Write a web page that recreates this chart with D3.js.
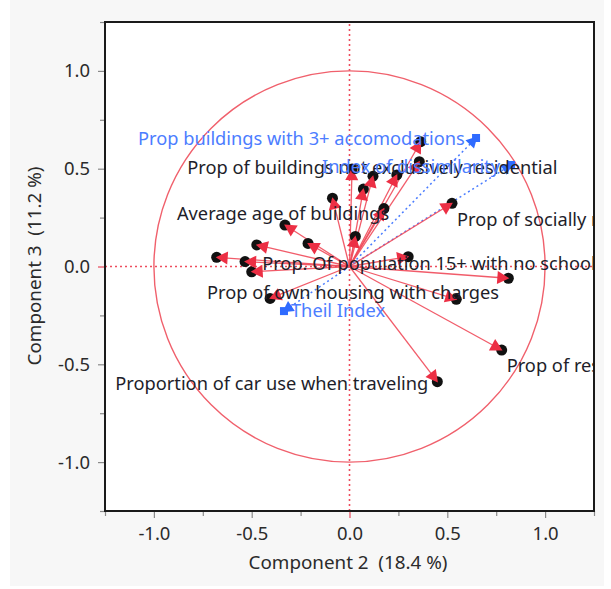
<!DOCTYPE html>
<html>
<head>
<meta charset="utf-8">
<script src="https://cdn.jsdelivr.net/npm/d3@7/dist/d3.min.js"></script>
<style>
  html, body { margin: 0; padding: 0; background: #ffffff; }
  svg { display: block; }
  text { font-family: "Noto Sans", "Open Sans", sans-serif; white-space: pre; }
</style>
</head>
<body>
<svg id="chart" width="611" height="589"></svg>
<script>
// ---------- data ----------
const variableNames = [
  "Prop of buildings with 3+ rooms",
  "Prop of buildings not exclusively residential",
  "Prop of apartments",
  "Prop of recent buildings",
  "Prop of buildings built before 1946",
  "Prop of vacant housing",
  "Prop of secondary residences",
  "Prop of large housing",
  "Prop of socially rented housing",
  "Prop of single-person households",
  "Prop of households with children",
  "Average age of buildings",
  "Prop of owners",
  "Prop of retirees",
  "Prop of households with 5+ persons",
  "Prop of unemployed",
  "Prop of own housing with charges",
  "Prop. Of population 15+ with no schooling",
  "Prop of foreign population",
  "Prop of manual workers",
  "Prop of residences over 20 years",
  "Proportion of car use when traveling"
];
const comp2 = [0.364, 0.357, 0.242, 0.120, 0.013, 0.071, -0.087, 0.176, 0.524, 0.030, -0.212, -0.330, -0.474, -0.679, -0.534, -0.500, -0.406, 0.300, 0.812, 0.546, 0.778, 0.449];
const comp3 = [0.638, 0.536, 0.468, 0.462, 0.498, 0.396, 0.349, 0.296, 0.323, 0.154, 0.118, 0.212, 0.110, 0.047, 0.025, -0.027, -0.163, 0.050, -0.060, -0.168, -0.427, -0.589];
const shownLabels = [
  "Prop of buildings not exclusively residential",
  "Average age of buildings",
  "Prop of socially rented housing",
  "Prop. Of population 15+ with no schooling",
  "Prop of own housing with charges",
  "Prop of residences over 20 years",
  "Proportion of car use when traveling"
];

const suppNames = ["Prop buildings with 3+ accomodations", "Index of dissimilarity", "Theil Index"];
const suppComp2 = [0.647, 0.826, -0.335];
const suppComp3 = [0.657, 0.519, -0.228];

const majorTicks = [-1.0, -0.5, 0.0, 0.5, 1.0];
const minorTicks = [-1.25, -0.75, -0.25, 0.25, 0.75, 1.25];
const xTitle = "Component 2  (18.4 %)";
const yTitle = "Component 3  (11.2 %)";

// ---------- label placement (pixel offsets from each point; styling, not data) ----------
const labelOffsets = {
  "Prop of buildings not exclusively residential": [-232, 12],
  "Average age of buildings": [-108, -5],
  "Prop of socially rented housing": [5, 23],
  "Prop. Of population 15+ with no schooling": [-146, 13],
  "Prop of own housing with charges": [-63, 1],
  "Prop of residences over 20 years": [5, 22],
  "Proportion of car use when traveling": [-322, 8]
};
const suppLabelOffsets = {
  "Prop buildings with 3+ accomodations": [-338, 7],
  "Index of dissimilarity": [-189, 8],
  "Theil Index": [7, 6]
};

// ---------- layout ----------
const svg = d3.select("#chart");
const plot = {left: 105, right: 594, top: 22, bottom: 511};

// font-size fitting helper (matches text widths of the reference rendering)
function fitSize(str, target) {
  const t = svg.append("text").style("font-size", "100px").text(str);
  const w = t.node().getComputedTextLength();
  t.remove();
  return (100 * target / w).toFixed(2) + "px";
}
const labelSize = fitSize("Proportion of car use when traveling", 313);
const titleSize = fitSize("Component 2  (18.4 %)", 199);
const tickSize = fitSize("-1.0", 32);

svg.append("rect").attr("x", 10).attr("y", 0).attr("width", 594).attr("height", 586).attr("fill", "#f7f7f7");

const x = d3.scaleLinear().domain([-1.25, 1.25]).range([plot.left, plot.right]);
const y = d3.scaleLinear().domain([-1.25, 1.25]).range([plot.bottom, plot.top]);

svg.append("rect").attr("x", plot.left).attr("y", plot.top)
  .attr("width", plot.right - plot.left).attr("height", plot.bottom - plot.top)
  .attr("fill", "#ffffff");

svg.append("clipPath").attr("id", "clip").append("rect")
  .attr("x", plot.left + 1).attr("y", plot.top + 1)
  .attr("width", plot.right - plot.left - 2).attr("height", plot.bottom - plot.top - 2);

const fmt = d => d.toFixed(1);
const tickColor = "#8a8a8a";
const labelColor = "#2b2b2b";

// axes
const xAxis = svg.append("g").attr("transform", `translate(0,${plot.bottom})`)
  .call(d3.axisBottom(x).tickValues(majorTicks).tickFormat(fmt).tickSizeOuter(0).tickSize(7).tickPadding(9));
const xMinor = svg.append("g").attr("transform", `translate(0,${plot.bottom})`)
  .call(d3.axisBottom(x).tickValues(minorTicks).tickFormat("").tickSizeOuter(0).tickSize(5));
const yAxis = svg.append("g").attr("transform", `translate(${plot.left},0)`)
  .call(d3.axisLeft(y).tickValues(majorTicks).tickFormat(fmt).tickSizeOuter(0).tickSize(7).tickPadding(8));
const yMinor = svg.append("g").attr("transform", `translate(${plot.left},0)`)
  .call(d3.axisLeft(y).tickValues(minorTicks).tickFormat("").tickSizeOuter(0).tickSize(5));

[xAxis, xMinor, yAxis, yMinor].forEach(g => {
  g.select(".domain").remove();
  g.selectAll(".tick line").attr("stroke", tickColor).attr("stroke-width", 1.2);
  g.selectAll(".tick text").attr("fill", labelColor).style("font-size", tickSize)
    .style("font-family", '"Noto Sans", sans-serif');
});
xAxis.selectAll(".tick").filter(d => d === 0).select("line").attr("stroke", "#e8485a");
yAxis.selectAll(".tick").filter(d => d === 0).select("line").attr("stroke", "#e8485a");

// axis titles
svg.append("text").attr("x", 348).attr("y", 569)
  .attr("text-anchor", "middle").attr("fill", labelColor).style("font-size", titleSize).text(xTitle);
svg.append("text").attr("transform", `translate(41,266) rotate(-90)`)
  .attr("text-anchor", "middle").attr("fill", labelColor).style("font-size", titleSize).text(yTitle);

const g = svg.append("g").attr("clip-path", "url(#clip)");

// reference lines
const red = "#ee4d5d";
g.append("line").attr("x1", x(-1.25)).attr("x2", x(1.25)).attr("y1", y(0)).attr("y2", y(0))
  .attr("stroke", red).attr("stroke-width", 1.6).attr("stroke-dasharray", "2,3");
g.append("line").attr("x1", x(0)).attr("x2", x(0)).attr("y1", y(-1.25)).attr("y2", y(1.25))
  .attr("stroke", red).attr("stroke-width", 1.6).attr("stroke-dasharray", "2,3");

// unit circle
g.append("circle").attr("cx", x(0)).attr("cy", y(0)).attr("r", x(1) - x(0))
  .attr("fill", "none").attr("stroke", "#f0606c").attr("stroke-width", 1.4);

const vars = variableNames.map((n, i) => ({name: n, cx: comp2[i], cy: comp3[i]}));
const supp = suppNames.map((n, i) => ({name: n, cx: suppComp2[i], cy: suppComp3[i]}));

function headPoints(px, py, ox, oy, len, half, extra) {
  const dx = px - ox, dy = py - oy, L = Math.hypot(dx, dy);
  const ux = dx / L, uy = dy / L;
  const tx = px + ux * extra, ty = py + uy * extra;
  const bx = tx - ux * len, by = ty - uy * len;
  return [[tx, ty], [bx - uy * half, by + ux * half], [bx + uy * half, by - ux * half]];
}

// supplementary (blue) dashed lines
g.selectAll(".suppLine").data(supp).join("line")
  .attr("x1", x(0)).attr("y1", y(0)).attr("x2", d => x(d.cx)).attr("y2", d => y(d.cy))
  .attr("stroke", "#4a7cff").attr("stroke-width", 1.5).attr("stroke-dasharray", "2,3");

// red arrow lines
g.selectAll(".varLine").data(vars).join("line")
  .attr("x1", x(0)).attr("y1", y(0)).attr("x2", d => x(d.cx)).attr("y2", d => y(d.cy))
  .attr("stroke", "#f04a5a").attr("stroke-width", 1.3).attr("stroke-opacity", 0.9);

// black points
g.selectAll(".varPt").data(vars).join("circle")
  .attr("cx", d => x(d.cx)).attr("cy", d => y(d.cy)).attr("r", 5.5).attr("fill", "#111");

// red arrowheads
g.selectAll(".varHead").data(vars).join("polygon")
  .attr("points", d => headPoints(x(d.cx), y(d.cy), x(0), y(0), 12, 6.5, 1).map(p => p.join(",")).join(" "))
  .attr("fill", "#ec2f44");

// blue markers
g.selectAll(".suppHead").data(supp).join("polygon")
  .attr("points", d => headPoints(x(d.cx), y(d.cy), x(0), y(0), 11, 6, 2).map(p => p.join(",")).join(" "))
  .attr("fill", "#2f6bff");
g.selectAll(".suppSq").data(supp).join("rect")
  .attr("x", d => x(d.cx) - 4).attr("y", d => y(d.cy) - 4).attr("width", 8).attr("height", 8)
  .attr("fill", "#2f6bff");

// labels
g.selectAll(".varLabel").data(vars.filter(d => shownLabels.includes(d.name))).join("text")
  .attr("x", d => x(d.cx) + labelOffsets[d.name][0])
  .attr("y", d => y(d.cy) + labelOffsets[d.name][1])
  .attr("fill", "#1e1e2a").style("font-size", labelSize).text(d => d.name);

g.selectAll(".suppLabel").data(supp).join("text")
  .attr("x", d => x(d.cx) + suppLabelOffsets[d.name][0])
  .attr("y", d => y(d.cy) + suppLabelOffsets[d.name][1])
  .attr("fill", "#4c7dff").style("font-size", labelSize).text(d => d.name);

// frame
svg.append("rect").attr("x", plot.left).attr("y", plot.top)
  .attr("width", plot.right - plot.left).attr("height", plot.bottom - plot.top)
  .attr("fill", "none").attr("stroke", "#1a1a1a").attr("stroke-width", 2);
</script>
</body>
</html>
